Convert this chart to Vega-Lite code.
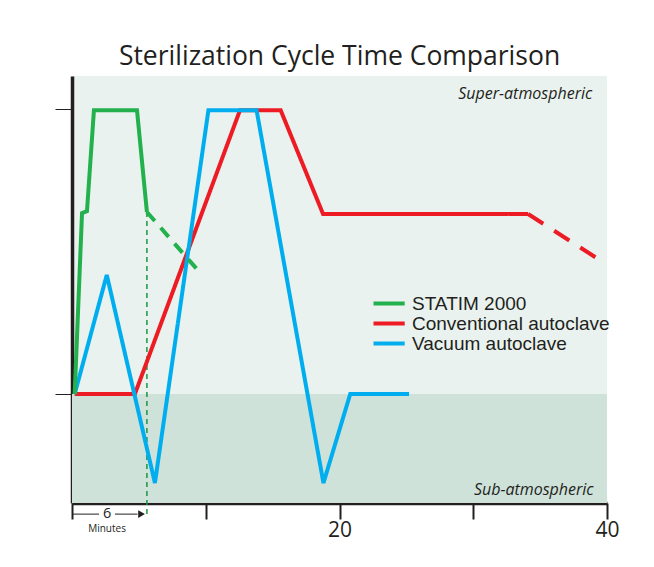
{
  "$schema": "https://vega.github.io/schema/vega-lite/v6.json",
  "width": 535,
  "height": 427,
  "autosize": {"type": "none"},
  "padding": {"left": 72, "top": 76, "right": 47, "bottom": 64},
  "background": "white",
  "title": {"text": "Sterilization Cycle Time Comparison", "fontSize": 26.5, "font": "Open Sans", "fontWeight": "normal", "color": "#231f20", "offset": 6, "anchor": "middle"},
  "config": {"view": {"fill": "#e9f2ee", "stroke": null}},
  "datasets": {
    "lines": [
      {"s": "Conventional autoclave", "seg": "r1", "st": "solid", "x": 0.2, "y": 0},
      {"s": "Conventional autoclave", "seg": "r1", "st": "solid", "x": 4.7, "y": 0},
      {"s": "Conventional autoclave", "seg": "r1", "st": "solid", "x": 12.56, "y": 99.6},
      {"s": "Conventional autoclave", "seg": "r1", "st": "solid", "x": 15.6, "y": 99.6},
      {"s": "Conventional autoclave", "seg": "r1", "st": "solid", "x": 18.77, "y": 63.2},
      {"s": "Conventional autoclave", "seg": "r1", "st": "solid", "x": 34.1, "y": 63.2},
      {"s": "Conventional autoclave", "seg": "r2", "st": "dashR", "x": 34.1, "y": 63.2},
      {"s": "Conventional autoclave", "seg": "r2", "st": "dashR", "x": 39.7, "y": 46.3},
      {"s": "Vacuum autoclave", "seg": "b1", "st": "solid", "x": 0.2, "y": 0},
      {"s": "Vacuum autoclave", "seg": "b1", "st": "solid", "x": 2.6, "y": 41.8},
      {"s": "Vacuum autoclave", "seg": "b1", "st": "solid", "x": 6.2, "y": -31.2},
      {"s": "Vacuum autoclave", "seg": "b1", "st": "solid", "x": 10.2, "y": 99.6},
      {"s": "Vacuum autoclave", "seg": "b1", "st": "solid", "x": 13.8, "y": 99.6},
      {"s": "Vacuum autoclave", "seg": "b1", "st": "solid", "x": 18.8, "y": -31.2},
      {"s": "Vacuum autoclave", "seg": "b1", "st": "solid", "x": 20.8, "y": 0},
      {"s": "Vacuum autoclave", "seg": "b1", "st": "solid", "x": 25.2, "y": 0},
      {"s": "STATIM 2000", "seg": "g1", "st": "solid", "x": 0.2, "y": 0},
      {"s": "STATIM 2000", "seg": "g1", "st": "solid", "x": 0.75, "y": 63.5},
      {"s": "STATIM 2000", "seg": "g1", "st": "solid", "x": 1.12, "y": 64.2},
      {"s": "STATIM 2000", "seg": "g1", "st": "solid", "x": 1.64, "y": 99.6},
      {"s": "STATIM 2000", "seg": "g1", "st": "solid", "x": 4.86, "y": 99.6},
      {"s": "STATIM 2000", "seg": "g1", "st": "solid", "x": 5.6, "y": 63.9},
      {"s": "STATIM 2000", "seg": "g2", "st": "dashG", "x": 5.6, "y": 63.9},
      {"s": "STATIM 2000", "seg": "g2", "st": "dashG", "x": 9.4, "y": 43.5}
    ]
  },
  "layer": [
    {
      "data": {"values": [{"x": 0, "x2": 40, "y": 0, "y2": -38.2}]},
      "mark": {"type": "rect", "color": "#cfe2d9"},
      "encoding": {
        "x": {"field": "x", "type": "quantitative", "scale": {"domain": [0, 40], "nice": false},
          "axis": {"values": [0, 10, 20, 30, 40], "domainColor": "#231f20", "domainWidth": 3.5, "tickColor": "#231f20", "tickWidth": 2, "tickSize": 16, "labelExpr": "datum.value == 20 || datum.value == 40 ? datum.label : ''", "labelFontSize": 21, "labelColor": "#231f20", "labelFont": "Open Sans", "title": null, "grid": false, "labelPadding": 0, "labelFlush": false}},
        "x2": {"field": "x2"},
        "y": {"field": "y", "type": "quantitative", "scale": {"domain": [-38.2, 111.6], "nice": false, "zero": false},
          "axis": {"values": [0, 100], "domainColor": "#231f20", "domainWidth": 3.5, "tickColor": "#231f20", "tickWidth": 1, "tickSize": 17, "labels": false, "title": null, "grid": false}},
        "y2": {"field": "y2"}
      }
    },
    {
      "data": {"values": [{"x": 5.6, "y": 63.9, "y2": -42.5}]},
      "mark": {"type": "rule", "color": "#1a9641", "strokeDash": [5, 4], "strokeWidth": 1.5},
      "encoding": {
        "x": {"field": "x", "type": "quantitative"},
        "y": {"field": "y", "type": "quantitative"},
        "y2": {"field": "y2"}
      }
    },
    {
      "data": {"name": "lines"},
      "mark": {"type": "line", "strokeWidth": 4, "strokeJoin": "miter", "strokeCap": "butt"},
      "encoding": {
        "x": {"field": "x", "type": "quantitative"},
        "y": {"field": "y", "type": "quantitative"},
        "color": {"field": "s", "type": "nominal",
          "scale": {"domain": ["STATIM 2000", "Conventional autoclave", "Vacuum autoclave"], "range": ["#22b14c", "#ed1c24", "#00aeef"]},
          "legend": {"orient": "none", "legendX": 307.6, "legendY": 218, "title": null, "symbolType": "M-2.6,0H2.6", "symbolStrokeWidth": 4, "symbolSize": 144, "labelFontSize": 19, "labelFont": "Liberation Sans", "labelColor": "#231f20", "labelOffset": 13.4, "labelLimit": 400, "rowPadding": -1.5, "padding": 0}},
        "strokeDash": {"field": "st", "type": "nominal", "scale": {"domain": ["solid", "dashG", "dashR"], "range": [[1, 0], [12, 9], [18, 13]]}, "legend": null},
        "detail": {"field": "seg", "type": "nominal"}
      }
    },
    {
      "data": {"values": [{"x": 0, "x2": 2.02, "y": -42.1}, {"x": 3.21, "x2": 4.9, "y": -42.1}]},
      "mark": {"type": "rule", "color": "#231f20", "strokeWidth": 1},
      "encoding": {
        "x": {"field": "x", "type": "quantitative"},
        "x2": {"field": "x2"},
        "y": {"field": "y", "type": "quantitative"}
      }
    },
    {
      "data": {"values": [{"x": 5.2, "y": -42.1}]},
      "mark": {"type": "point", "shape": "triangle-right", "filled": true, "color": "#231f20", "size": 60, "opacity": 1},
      "encoding": {
        "x": {"field": "x", "type": "quantitative"},
        "y": {"field": "y", "type": "quantitative"}
      }
    },
    {
      "data": {"values": [{"x": 2.62, "y": -42.1, "t": "6", "fs": "big"}, {"x": 2.62, "y": -47.2, "t": "Minutes", "fs": "small"}]},
      "mark": {"type": "text", "font": "Open Sans", "color": "#231f20", "baseline": "middle", "align": "center"},
      "encoding": {
        "x": {"field": "x", "type": "quantitative"},
        "y": {"field": "y", "type": "quantitative"},
        "text": {"field": "t"},
        "size": {"field": "fs", "type": "nominal", "scale": {"domain": ["big", "small"], "range": [14.5, 10]}, "legend": null}
      }
    },
    {
      "data": {"values": [{"x": 38.9, "y": 105.3, "t": "Super-atmospheric"}, {"x": 39.0, "y": -33.7, "t": "Sub-atmospheric"}]},
      "mark": {"type": "text", "font": "Open Sans", "fontStyle": "italic", "fontSize": 16, "color": "#231f20", "baseline": "middle", "align": "right"},
      "encoding": {
        "x": {"field": "x", "type": "quantitative"},
        "y": {"field": "y", "type": "quantitative"},
        "text": {"field": "t"}
      }
    }
  ]
}
